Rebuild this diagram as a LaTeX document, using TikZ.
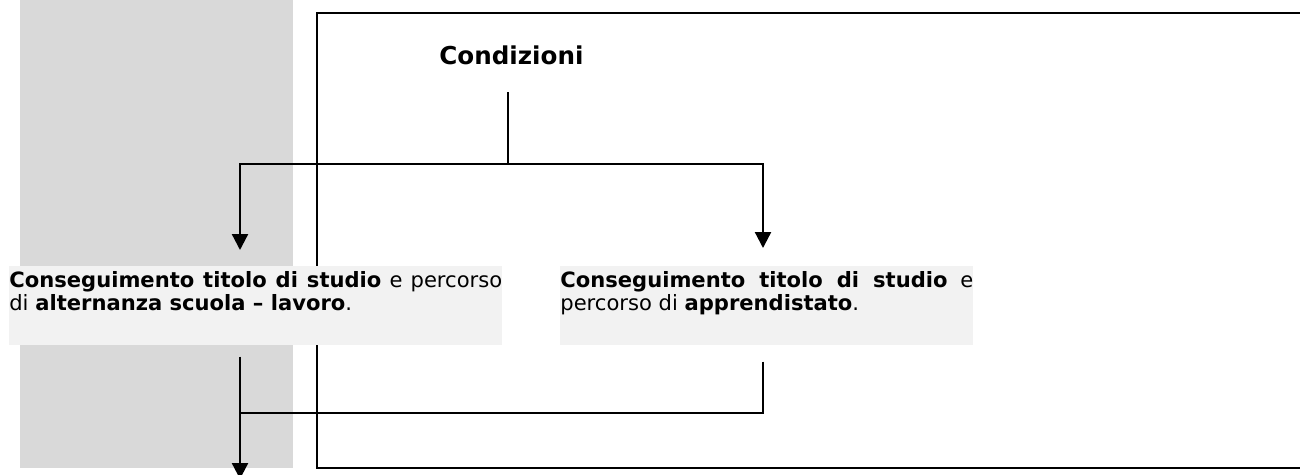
\documentclass[tikz,border=0pt]{standalone}
\usepackage{fontspec}
\setmainfont{DejaVu Sans}
\usetikzlibrary{arrows.meta,calc}

\definecolor{colgray}{HTML}{D9D9D9}
\definecolor{bandgray}{HTML}{F2F2F2}

\tikzset{
  band/.style={fill=bandgray, inner sep=0pt, anchor=north west, align=justify,
    font=\fontsize{12}{13.1}\selectfont},
  link/.style={line width=1.3pt},
  arrow/.style={link, -{Triangle[width=0.32cm,length=0.32cm]}},
}

\begin{document}
\begin{tikzpicture}[x=0.02cm,y=-0.02cm]
  \useasboundingbox (0,0) rectangle (1300,474);
  \fill[colgray] (20,0) rectangle (293,468);
  \draw[line width=0.7pt] (317,13) rectangle (1312,468);
  \node[anchor=base west, inner sep=0pt, font=\fontsize{14}{16}\selectfont\bfseries]
    (cond) at (439,64) {Condizioni};
  \node[band, text width=9.86cm] (alt) at (9,266)
    {\rule{0pt}{0.42cm}\textbf{Conseguimento titolo di studio} e percorso\linebreak
     di \textbf{alternanza scuola -- lavoro}.\rule[-0.7cm]{0pt}{0pt}};
  \node[band, text width=8.26cm] (appr) at (560,266)
    {\rule{0pt}{0.42cm}\textbf{Conseguimento titolo di studio} e\linebreak
     percorso di \textbf{apprendistato}.\rule[-0.7cm]{0pt}{0pt}};
  \coordinate (drop) at (508,92);
  \coordinate (fork) at (508,164);
  \coordinate (merge) at (240,413);
  \coordinate (out) at (240,479);
  \begin{scope}
    \draw[link] (drop) -- (fork);
    \draw[arrow, shorten >=0.32cm] (fork) -| ($(alt.north west)+(231,0)$);
    \draw[arrow, shorten >=0.36cm] (fork) -| ($(appr.north west)+(203,0)$);
    \draw[arrow] ($(alt.south west)+(231,11)$) -- (out);
    \draw[link] ($(appr.south west)+(203,16)$) |- (merge);
  \end{scope}
\end{tikzpicture}
\end{document}
